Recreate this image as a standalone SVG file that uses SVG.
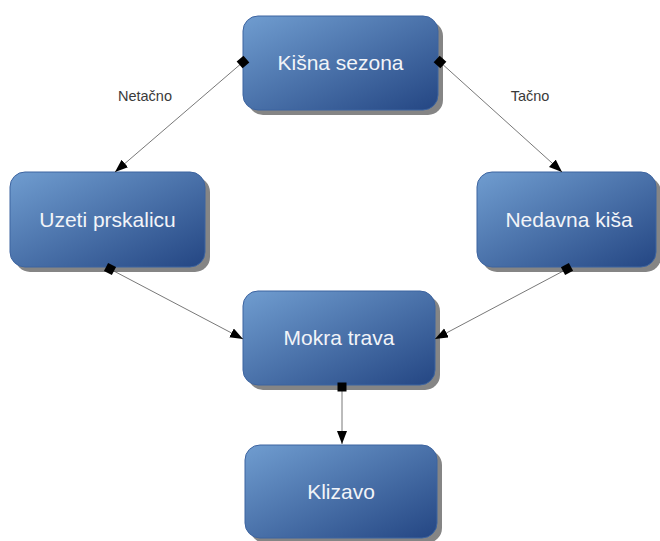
<svg xmlns="http://www.w3.org/2000/svg" width="660" height="541" viewBox="0 0 660 541">
<style>
.shadow{fill:#858585}
.box{fill:url(#g);stroke:#3d64a0;stroke-width:1}
.t{font-family:"Liberation Sans",Arial,sans-serif;font-size:21px;fill:#f2f4f8;text-anchor:middle}
.lbl{font-family:"Liberation Sans",Arial,sans-serif;font-size:14.5px;fill:#3a3a3a;text-anchor:middle}
.c{stroke:#555;stroke-width:0.8;fill:none;marker-start:url(#sq);marker-end:url(#ar)}
</style>
<defs>
<linearGradient id="g" x1="0" y1="0" x2="1" y2="1">
<stop offset="0" stop-color="#709dd0"/>
<stop offset="1" stop-color="#244683"/>
</linearGradient>
<marker id="ar" markerUnits="userSpaceOnUse" markerWidth="14" markerHeight="12" refX="13" refY="5" orient="auto">
<path d="M0,0 L13,5 L0,10 Z" fill="#000"/>
</marker>
<marker id="sq" markerUnits="userSpaceOnUse" markerWidth="12" markerHeight="12" refX="6" refY="6" orient="auto">
<rect x="1.5" y="1.5" width="9" height="9" fill="#000"/>
</marker>
</defs>
<g id="n1">
<rect class="shadow" x="248" y="21" width="195" height="94" rx="15"/>
<rect class="box" x="243" y="16" width="195" height="94" rx="15"/>
<text class="t" x="340.5" y="70">Kišna sezona</text>
</g>
<g id="n2">
<rect class="shadow" x="15" y="177" width="195" height="95" rx="15"/>
<rect class="box" x="10" y="172" width="195" height="95" rx="15"/>
<text class="t" x="107.5" y="227">Uzeti prskalicu</text>
</g>
<g id="n3">
<rect class="shadow" x="482" y="177" width="179" height="95" rx="15"/>
<rect class="box" x="477" y="172" width="179" height="95" rx="15"/>
<text class="t" x="569" y="227">Nedavna kiša</text>
</g>
<g id="n4">
<rect class="shadow" x="248" y="296" width="192" height="94" rx="15"/>
<rect class="box" x="243" y="291" width="192" height="94" rx="15"/>
<text class="t" x="339" y="345">Mokra trava</text>
</g>
<g id="n5">
<rect class="shadow" x="250" y="450" width="192" height="93" rx="15"/>
<rect class="box" x="245" y="445" width="192" height="93" rx="15"/>
<text class="t" x="341" y="499">Klizavo</text>
</g>
<g id="connectors">
<line class="c" x1="243" y1="62" x2="115" y2="172"/>
<line class="c" x1="440" y1="62" x2="562" y2="172"/>
<line class="c" x1="110" y1="269" x2="243" y2="339"/>
<line class="c" x1="567" y1="269" x2="435" y2="339"/>
<line class="c" x1="342" y1="387" x2="342" y2="444"/>
<text class="lbl" x="145" y="101">Netačno</text>
<text class="lbl" x="530" y="101">Tačno</text>
</g>
</svg>
